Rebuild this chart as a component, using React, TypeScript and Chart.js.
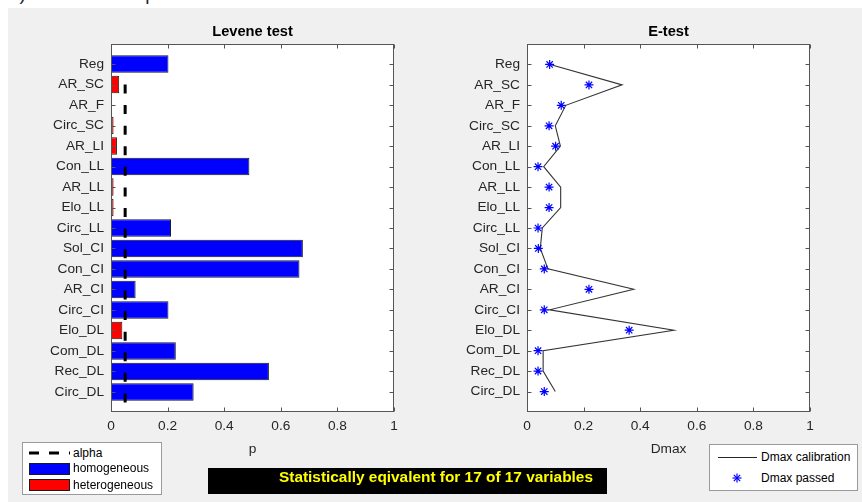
import React, { useEffect, useRef } from "react";
import { Chart, registerables } from "chart.js";

Chart.register(...registerables);

// ---------------- data ----------------
const CATEGORIES = [
  "Reg", "AR_SC", "AR_F", "Circ_SC", "AR_LI", "Con_LL", "AR_LL", "Elo_LL", "Circ_LL",
  "Sol_CI", "Con_CI", "AR_CI", "Circ_CI", "Elo_DL", "Com_DL", "Rec_DL", "Circ_DL",
];
const LEVENE_P = [
  0.203, 0.029, 0.0, 0.009, 0.021, 0.489, 0.009, 0.009, 0.212,
  0.678, 0.666, 0.087, 0.203, 0.040, 0.229, 0.558, 0.292,
];
const ALPHA = 0.05;
const ALPHA_SPAN = [18, 1.45];
const DMAX_CALIBRATION = [
  0.082, 0.336, 0.137, 0.100, 0.118, 0.059, 0.119, 0.119, 0.054,
  0.047, 0.074, 0.377, 0.080, 0.519, 0.057, 0.057, 0.100,
];
const DMAX_PASSED = [
  0.080, 0.219, 0.121, 0.078, 0.101, 0.039, 0.078, 0.078, 0.039,
  0.040, 0.061, 0.219, 0.061, 0.361, 0.039, 0.039, 0.061,
];
const X_TICKS = [0, 0.2, 0.4, 0.6, 0.8, 1];
const PASSED = 17;
const TOTAL = 17;

// ---------------- styles ----------------
const FONT = 'Arial, "Liberation Sans", Helvetica, sans-serif';
const TEXT = "#262626";
const FRAME = "#555555";
const BLUE = "#0000ff";
const RED = "#ff0000";

function decor(title: string, xLabel: string) {
  return {
    id: "decor",
    beforeDraw(chart: any) {
      const { ctx, chartArea: a } = chart;
      ctx.save();
      ctx.fillStyle = "#ffffff";
      ctx.fillRect(a.left, a.top, a.right - a.left, a.bottom - a.top);
      ctx.restore();
    },
    afterDatasetsDraw(chart: any) {
      const { ctx, chartArea: a, scales } = chart;
      const L = Math.round(a.left) + 0.5;
      const R = Math.round(a.right) - 0.5;
      const T = Math.round(a.top) + 0.5;
      const B = Math.round(a.bottom) - 0.5;
      ctx.save();
      ctx.strokeStyle = FRAME;
      ctx.lineWidth = 1;
      ctx.strokeRect(L, T, R - L, B - T);
      const tl = 4;
      ctx.beginPath();
      for (const v of X_TICKS) {
        const px = Math.round(scales.x.getPixelForValue(v)) + 0.5;
        ctx.moveTo(px, B); ctx.lineTo(px, B - tl);
        ctx.moveTo(px, T); ctx.lineTo(px, T + tl);
      }
      for (let i = 1; i <= CATEGORIES.length; i++) {
        const py = Math.round(scales.y.getPixelForValue(i)) + 0.5;
        ctx.moveTo(L, py); ctx.lineTo(L + tl, py);
        ctx.moveTo(R, py); ctx.lineTo(R - tl, py);
      }
      ctx.stroke();
      ctx.restore();
    },
    afterDraw(chart: any) {
      const { ctx, chartArea: a } = chart;
      const cx = (a.left + a.right) / 2;
      ctx.save();
      ctx.textAlign = "center";
      ctx.textBaseline = "alphabetic";
      ctx.fillStyle = "#000000";
      ctx.font = `bold 14.67px ${FONT}`;
      ctx.fillText(title, cx, 27.5);
      ctx.fillStyle = TEXT;
      ctx.font = `13.7px ${FONT}`;
      ctx.fillText(xLabel, cx, 445);
      ctx.restore();
    },
  };
}

function scalesFor(yMin: number, yMax: number, yWidth: number) {
  const tickFont = { family: FONT, size: 13.7 };
  return {
    x: {
      type: "linear",
      min: 0,
      max: 1,
      position: "bottom",
      grid: { display: false, drawTicks: false },
      border: { display: false },
      ticks: { padding: 6, font: tickFont, color: TEXT, callback: (v: number) => String(v) },
      afterBuildTicks: (s: any) => { s.ticks = X_TICKS.map((v) => ({ value: v })); },
      afterFit: (s: any) => { s.height = 90; },
    },
    y: {
      type: "linear",
      min: yMin,
      max: yMax,
      reverse: true,
      position: "left",
      grid: { display: false, drawTicks: false },
      border: { display: false },
      ticks: {
        padding: 7,
        autoSkip: false,
        font: tickFont,
        color: TEXT,
        callback: (v: number) => CATEGORIES[v - 1] ?? "",
      },
      afterBuildTicks: (s: any) => { s.ticks = CATEGORIES.map((_, i) => ({ value: i + 1 })); },
      afterFit: (s: any) => { s.width = yWidth; },
    },
  };
}

function leftConfig(): any {
  return {
    type: "bar",
    data: {
      datasets: [
        {
          type: "line",
          label: "alpha",
          data: ALPHA_SPAN.map((y) => ({ x: ALPHA, y })),
          borderColor: "#000000",
          borderWidth: 3,
          borderDash: [9, 11.6],
          borderDashOffset: 10.6,
          pointRadius: 0,
          clip: 0,
          order: 0,
        },
        {
          type: "bar",
          label: "p",
          data: LEVENE_P.map((p, i) => ({ x: p, y: i + 1 })),
          backgroundColor: LEVENE_P.map((p) => (p < ALPHA ? RED : BLUE)),
          borderColor: "#1a1a1a",
          borderWidth: 1,
          borderSkipped: false,
          barPercentage: 0.86,
          categoryPercentage: 1,
          order: 1,
        },
      ],
    },
    options: {
      indexAxis: "y",
      responsive: false,
      animation: false,
      events: [],
      layout: { padding: { top: 36, right: 36, left: 0, bottom: 0 } },
      plugins: { legend: { display: false }, tooltip: { enabled: false }, title: { display: false } },
      scales: scalesFor(0.55, 17.45, 103),
    },
    plugins: [decor("Levene test", "p")],
  };
}

function rightConfig(): any {
  return {
    type: "line",
    data: {
      datasets: [
        {
          type: "scatter",
          label: "Dmax passed",
          data: DMAX_PASSED.map((v, i) => ({ x: v, y: i + 1 })),
          showLine: false,
          pointStyle: "star",
          pointRadius: 4.5,
          pointBorderColor: BLUE,
          pointBackgroundColor: BLUE,
          pointBorderWidth: 1.2,
          order: 0,
        },
        {
          type: "line",
          label: "Dmax calibration",
          data: DMAX_CALIBRATION.map((v, i) => ({ x: v, y: i + 1 })),
          borderColor: "#333333",
          borderWidth: 1.1,
          pointRadius: 0,
          tension: 0,
          order: 1,
        },
      ],
    },
    options: {
      responsive: false,
      animation: false,
      events: [],
      layout: { padding: { top: 36, right: 52, left: 0, bottom: 0 } },
      plugins: { legend: { display: false }, tooltip: { enabled: false }, title: { display: false } },
      scales: scalesFor(0, 18, 97),
    },
    plugins: [decor("E-test", "Dmax")],
  };
}

const abs = (s: React.CSSProperties): React.CSSProperties => ({ position: "absolute", ...s });
const legendText: React.CSSProperties = {
  position: "absolute",
  font: `12px ${FONT}`,
  color: "#000",
  lineHeight: "14px",
  whiteSpace: "nowrap",
};

export default function App() {
  const leftRef = useRef<HTMLCanvasElement>(null);
  const rightRef = useRef<HTMLCanvasElement>(null);

  useEffect(() => {
    const l = new Chart(leftRef.current as HTMLCanvasElement, leftConfig());
    const r = new Chart(rightRef.current as HTMLCanvasElement, rightConfig());
    return () => {
      l.destroy();
      r.destroy();
    };
  }, []);

  return (
    <div style={{ position: "fixed", left: 0, top: 0, width: 862, height: 502, overflow: "hidden", background: "#fff" }}>
      <div style={abs({ left: 9, top: -16, font: `19px ${FONT}`, color: TEXT, lineHeight: "19px", whiteSpace: "nowrap" })}>
        b) E-test - AR rep - VS - C
      </div>
      <div style={abs({ left: 8, top: 8, width: 854, height: 494, background: "#f0f0f0" })} />
      <canvas ref={leftRef} width={422} height={494} style={abs({ left: 8, top: 8, width: 422, height: 494, display: "block" })} />
      <canvas ref={rightRef} width={432} height={494} style={abs({ left: 430, top: 8, width: 432, height: 494, display: "block" })} />

      {/* left legend */}
      <div style={abs({ left: 22, top: 442, width: 140, height: 53, background: "#fff", border: "1px solid #9a9a9a", boxSizing: "border-box" })} />
      <svg style={abs({ left: 29, top: 450, width: 42, height: 6 })} width={42} height={6}>
        <line x1={0} y1={3} x2={41} y2={3} stroke="#000" strokeWidth={3} strokeDasharray="10 10" />
      </svg>
      <div style={{ ...legendText, left: 73, top: 446 }}>alpha</div>
      <div style={abs({ left: 29, top: 463, width: 41, height: 11.5, background: BLUE, border: "1px solid #1a1a1a", boxSizing: "border-box" })} />
      <div style={{ ...legendText, left: 73, top: 461 }}>homogeneous</div>
      <div style={abs({ left: 29, top: 479, width: 41, height: 12, background: RED, border: "1px solid #1a1a1a", boxSizing: "border-box" })} />
      <div style={{ ...legendText, left: 73, top: 478 }}>heterogeneous</div>

      {/* result banner */}
      <div style={abs({ left: 208, top: 468, width: 399, height: 26, background: "#000" })}>
        <div style={abs({ left: 71, top: 0, height: 26, lineHeight: "26px", font: `bold 15.4px ${FONT}`, color: "#ffff00", whiteSpace: "nowrap" })}>
          {`Statistically eqivalent for ${PASSED} of ${TOTAL} variables`}
        </div>
      </div>

      {/* right legend */}
      <div style={abs({ left: 709, top: 444, width: 149, height: 47, background: "#fff", border: "1px solid #9a9a9a", boxSizing: "border-box" })} />
      <svg style={abs({ left: 717, top: 452, width: 42, height: 10 })} width={42} height={10}>
        <line x1={1} y1={5.5} x2={40} y2={5.5} stroke="#262626" strokeWidth={1} />
      </svg>
      <div style={{ ...legendText, left: 761, top: 450 }}>Dmax calibration</div>
      <svg style={abs({ left: 731, top: 472, width: 12, height: 12 })} width={12} height={12}>
        <g stroke={BLUE} strokeWidth={1.2}>
          <line x1={6} y1={1.5} x2={6} y2={10.5} />
          <line x1={1.5} y1={6} x2={10.5} y2={6} />
          <line x1={2.8} y1={2.8} x2={9.2} y2={9.2} />
          <line x1={9.2} y1={2.8} x2={2.8} y2={9.2} />
        </g>
      </svg>
      <div style={{ ...legendText, left: 761, top: 471 }}>Dmax passed</div>
    </div>
  );
}
